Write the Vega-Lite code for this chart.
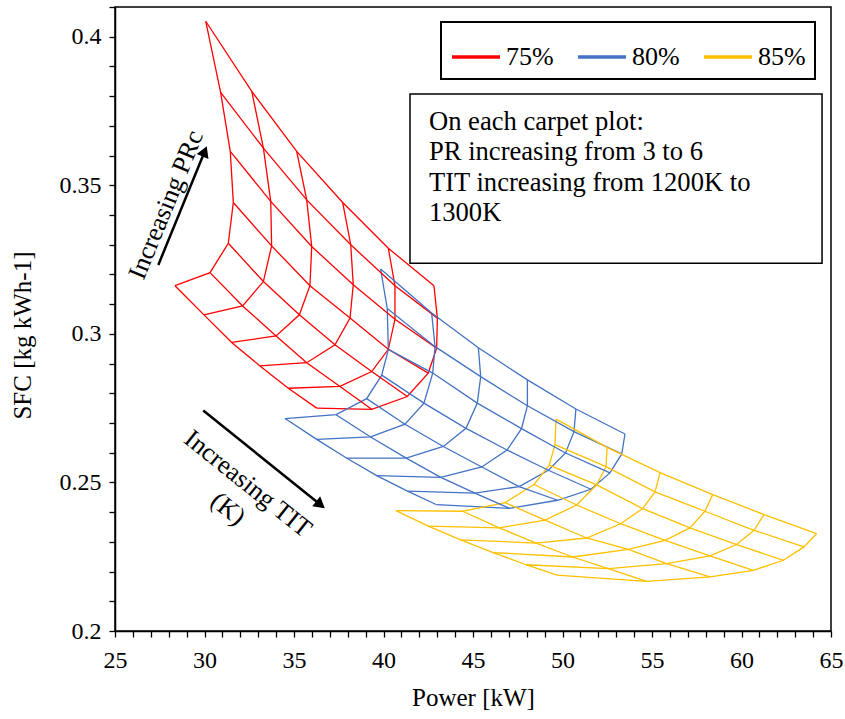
{
  "$schema": "https://vega.github.io/schema/vega-lite/v6.json",
  "width": 716,
  "height": 624,
  "autosize": {"type": "none"},
  "padding": {"left": 115, "top": 7, "right": 14, "bottom": 88},
  "background": "white",
  "config": {
    "view": {"stroke": "black", "strokeWidth": 1.5},
    "font": "Liberation Serif",
    "axis": {"labelFont": "Liberation Serif", "titleFont": "Liberation Serif"},
    "legend": {"labelFont": "Liberation Serif"},
    "text": {"font": "Liberation Serif"}
  },
  "datasets": {
    "carpet": [
      {"eff":"75%","tit":1200,"pr":6,"power":30.07,"sfc":0.4052},
      {"eff":"75%","tit":1200,"pr":5.5,"power":30.90,"sfc":0.3813},
      {"eff":"75%","tit":1200,"pr":5,"power":31.44,"sfc":0.3614},
      {"eff":"75%","tit":1200,"pr":4.5,"power":31.61,"sfc":0.3442},
      {"eff":"75%","tit":1200,"pr":4,"power":31.33,"sfc":0.3305},
      {"eff":"75%","tit":1200,"pr":3.5,"power":30.31,"sfc":0.3206},
      {"eff":"75%","tit":1200,"pr":3,"power":28.35,"sfc":0.3162},
      {"eff":"75%","tit":1220,"pr":6,"power":32.64,"sfc":0.3816},
      {"eff":"75%","tit":1220,"pr":5.5,"power":33.29,"sfc":0.3625},
      {"eff":"75%","tit":1220,"pr":5,"power":33.70,"sfc":0.3446},
      {"eff":"75%","tit":1220,"pr":4.5,"power":33.75,"sfc":0.3296},
      {"eff":"75%","tit":1220,"pr":4,"power":33.29,"sfc":0.3176},
      {"eff":"75%","tit":1220,"pr":3.5,"power":32.13,"sfc":0.3094},
      {"eff":"75%","tit":1220,"pr":3,"power":29.97,"sfc":0.3064},
      {"eff":"75%","tit":1240,"pr":6,"power":35.15,"sfc":0.3614},
      {"eff":"75%","tit":1240,"pr":5.5,"power":35.71,"sfc":0.3451},
      {"eff":"75%","tit":1240,"pr":5,"power":35.99,"sfc":0.3294},
      {"eff":"75%","tit":1240,"pr":4.5,"power":35.89,"sfc":0.3162},
      {"eff":"75%","tit":1240,"pr":4,"power":35.30,"sfc":0.3064},
      {"eff":"75%","tit":1240,"pr":3.5,"power":34.00,"sfc":0.2993},
      {"eff":"75%","tit":1240,"pr":3,"power":31.52,"sfc":0.2971},
      {"eff":"75%","tit":1260,"pr":6,"power":37.72,"sfc":0.3442},
      {"eff":"75%","tit":1260,"pr":5.5,"power":38.17,"sfc":0.3300},
      {"eff":"75%","tit":1260,"pr":5,"power":38.31,"sfc":0.3165},
      {"eff":"75%","tit":1260,"pr":4.5,"power":38.13,"sfc":0.3053},
      {"eff":"75%","tit":1260,"pr":4,"power":37.29,"sfc":0.2963},
      {"eff":"75%","tit":1260,"pr":3.5,"power":35.71,"sfc":0.2903},
      {"eff":"75%","tit":1260,"pr":3,"power":33.10,"sfc":0.2892},
      {"eff":"75%","tit":1280,"pr":6,"power":40.27,"sfc":0.3288},
      {"eff":"75%","tit":1280,"pr":5.5,"power":40.64,"sfc":0.3162},
      {"eff":"75%","tit":1280,"pr":5,"power":40.64,"sfc":0.3049},
      {"eff":"75%","tit":1280,"pr":4.5,"power":40.27,"sfc":0.2948},
      {"eff":"75%","tit":1280,"pr":4,"power":39.34,"sfc":0.2873},
      {"eff":"75%","tit":1280,"pr":3.5,"power":37.57,"sfc":0.2823},
      {"eff":"75%","tit":1280,"pr":3,"power":34.68,"sfc":0.2817},
      {"eff":"75%","tit":1300,"pr":6,"power":42.82,"sfc":0.3162},
      {"eff":"75%","tit":1300,"pr":5.5,"power":43.01,"sfc":0.3053},
      {"eff":"75%","tit":1300,"pr":5,"power":42.97,"sfc":0.2952},
      {"eff":"75%","tit":1300,"pr":4.5,"power":42.50,"sfc":0.2868},
      {"eff":"75%","tit":1300,"pr":4,"power":41.33,"sfc":0.2789},
      {"eff":"75%","tit":1300,"pr":3.5,"power":39.34,"sfc":0.2746},
      {"eff":"75%","tit":1300,"pr":3,"power":36.27,"sfc":0.2750},

      {"eff":"80%","tit":1200,"pr":6,"power":39.84,"sfc":0.3218},
      {"eff":"80%","tit":1200,"pr":5.5,"power":40.21,"sfc":0.3085},
      {"eff":"80%","tit":1200,"pr":5,"power":40.27,"sfc":0.2948},
      {"eff":"80%","tit":1200,"pr":4.5,"power":39.90,"sfc":0.2861},
      {"eff":"80%","tit":1200,"pr":4,"power":39.06,"sfc":0.2782},
      {"eff":"80%","tit":1200,"pr":3.5,"power":37.35,"sfc":0.2728},
      {"eff":"80%","tit":1200,"pr":3,"power":34.50,"sfc":0.2715},
      {"eff":"80%","tit":1220,"pr":6,"power":42.69,"sfc":0.3070},
      {"eff":"80%","tit":1220,"pr":5.5,"power":42.88,"sfc":0.2957},
      {"eff":"80%","tit":1220,"pr":5,"power":42.75,"sfc":0.2868},
      {"eff":"80%","tit":1220,"pr":4.5,"power":42.26,"sfc":0.2767},
      {"eff":"80%","tit":1220,"pr":4,"power":41.20,"sfc":0.2696},
      {"eff":"80%","tit":1220,"pr":3.5,"power":39.28,"sfc":0.2653},
      {"eff":"80%","tit":1220,"pr":3,"power":36.27,"sfc":0.2645},
      {"eff":"80%","tit":1240,"pr":6,"power":45.30,"sfc":0.2953},
      {"eff":"80%","tit":1240,"pr":5.5,"power":45.43,"sfc":0.2856},
      {"eff":"80%","tit":1240,"pr":5,"power":45.24,"sfc":0.2767},
      {"eff":"80%","tit":1240,"pr":4.5,"power":44.61,"sfc":0.2682},
      {"eff":"80%","tit":1240,"pr":4,"power":43.34,"sfc":0.2621},
      {"eff":"80%","tit":1240,"pr":3.5,"power":41.27,"sfc":0.2582},
      {"eff":"80%","tit":1240,"pr":3,"power":37.93,"sfc":0.2582},
      {"eff":"80%","tit":1260,"pr":6,"power":48.04,"sfc":0.2845},
      {"eff":"80%","tit":1260,"pr":5.5,"power":48.04,"sfc":0.2758},
      {"eff":"80%","tit":1260,"pr":5,"power":47.71,"sfc":0.2681},
      {"eff":"80%","tit":1260,"pr":4.5,"power":46.90,"sfc":0.2609},
      {"eff":"80%","tit":1260,"pr":4,"power":45.49,"sfc":0.2552},
      {"eff":"80%","tit":1260,"pr":3.5,"power":43.20,"sfc":0.2517},
      {"eff":"80%","tit":1260,"pr":3,"power":39.62,"sfc":0.2523},
      {"eff":"80%","tit":1280,"pr":6,"power":50.75,"sfc":0.2747},
      {"eff":"80%","tit":1280,"pr":5.5,"power":50.64,"sfc":0.2671},
      {"eff":"80%","tit":1280,"pr":5,"power":50.17,"sfc":0.2599},
      {"eff":"80%","tit":1280,"pr":4.5,"power":49.21,"sfc":0.2541},
      {"eff":"80%","tit":1280,"pr":4,"power":47.58,"sfc":0.2486},
      {"eff":"80%","tit":1280,"pr":3.5,"power":45.11,"sfc":0.2464},
      {"eff":"80%","tit":1280,"pr":3,"power":41.34,"sfc":0.2471},
      {"eff":"80%","tit":1300,"pr":6,"power":53.49,"sfc":0.2663},
      {"eff":"80%","tit":1300,"pr":5.5,"power":53.31,"sfc":0.2596},
      {"eff":"80%","tit":1300,"pr":5,"power":52.65,"sfc":0.2532},
      {"eff":"80%","tit":1300,"pr":4.5,"power":51.59,"sfc":0.2477},
      {"eff":"80%","tit":1300,"pr":4,"power":49.73,"sfc":0.2440},
      {"eff":"80%","tit":1300,"pr":3.5,"power":47.04,"sfc":0.2413},
      {"eff":"80%","tit":1300,"pr":3,"power":42.97,"sfc":0.2425},

      {"eff":"85%","tit":1200,"pr":6,"power":49.64,"sfc":0.2713},
      {"eff":"85%","tit":1200,"pr":5.5,"power":49.58,"sfc":0.2627},
      {"eff":"85%","tit":1200,"pr":5,"power":49.26,"sfc":0.2558},
      {"eff":"85%","tit":1200,"pr":4.5,"power":48.41,"sfc":0.2493},
      {"eff":"85%","tit":1200,"pr":4,"power":46.79,"sfc":0.2432},
      {"eff":"85%","tit":1200,"pr":3.5,"power":44.42,"sfc":0.2403},
      {"eff":"85%","tit":1200,"pr":3,"power":40.70,"sfc":0.2405},
      {"eff":"85%","tit":1220,"pr":6,"power":52.49,"sfc":0.2618},
      {"eff":"85%","tit":1220,"pr":5.5,"power":52.43,"sfc":0.2553},
      {"eff":"85%","tit":1220,"pr":5,"power":51.91,"sfc":0.2492},
      {"eff":"85%","tit":1220,"pr":4.5,"power":50.79,"sfc":0.2424},
      {"eff":"85%","tit":1220,"pr":4,"power":49.02,"sfc":0.2373},
      {"eff":"85%","tit":1220,"pr":3.5,"power":46.47,"sfc":0.2347},
      {"eff":"85%","tit":1220,"pr":3,"power":42.50,"sfc":0.2353},
      {"eff":"85%","tit":1240,"pr":6,"power":55.45,"sfc":0.2533},
      {"eff":"85%","tit":1240,"pr":5.5,"power":55.17,"sfc":0.2468},
      {"eff":"85%","tit":1240,"pr":5,"power":54.48,"sfc":0.2412},
      {"eff":"85%","tit":1240,"pr":4.5,"power":53.25,"sfc":0.2361},
      {"eff":"85%","tit":1240,"pr":4,"power":51.35,"sfc":0.2313},
      {"eff":"85%","tit":1240,"pr":3.5,"power":48.52,"sfc":0.2296},
      {"eff":"85%","tit":1240,"pr":3,"power":44.31,"sfc":0.2307},
      {"eff":"85%","tit":1260,"pr":6,"power":58.39,"sfc":0.2459},
      {"eff":"85%","tit":1260,"pr":5.5,"power":57.96,"sfc":0.2403},
      {"eff":"85%","tit":1260,"pr":5,"power":57.12,"sfc":0.2347},
      {"eff":"85%","tit":1260,"pr":4.5,"power":55.73,"sfc":0.2305},
      {"eff":"85%","tit":1260,"pr":4,"power":53.68,"sfc":0.2275},
      {"eff":"85%","tit":1260,"pr":3.5,"power":50.57,"sfc":0.2249},
      {"eff":"85%","tit":1260,"pr":3,"power":46.13,"sfc":0.2264},
      {"eff":"85%","tit":1280,"pr":6,"power":61.26,"sfc":0.2392},
      {"eff":"85%","tit":1280,"pr":5.5,"power":60.70,"sfc":0.2339},
      {"eff":"85%","tit":1280,"pr":5,"power":59.73,"sfc":0.2291},
      {"eff":"85%","tit":1280,"pr":4.5,"power":58.24,"sfc":0.2253},
      {"eff":"85%","tit":1280,"pr":4,"power":55.82,"sfc":0.2227},
      {"eff":"85%","tit":1280,"pr":3.5,"power":52.56,"sfc":0.2210},
      {"eff":"85%","tit":1280,"pr":3,"power":47.96,"sfc":0.2223},
      {"eff":"85%","tit":1300,"pr":6,"power":64.20,"sfc":0.2328},
      {"eff":"85%","tit":1300,"pr":5.5,"power":63.49,"sfc":0.2283},
      {"eff":"85%","tit":1300,"pr":5,"power":62.34,"sfc":0.2238},
      {"eff":"85%","tit":1300,"pr":4.5,"power":60.66,"sfc":0.2204},
      {"eff":"85%","tit":1300,"pr":4,"power":58.24,"sfc":0.2182},
      {"eff":"85%","tit":1300,"pr":3.5,"power":54.70,"sfc":0.2167},
      {"eff":"85%","tit":1300,"pr":3,"power":49.68,"sfc":0.2188}
    ]
  },
  "encoding": {
    "x": {
      "field": "power", "type": "quantitative",
      "scale": {"domain": [25, 65], "nice": false, "zero": false},
      "axis": {
        "title": "Power [kW]",
        "values": [25,26,27,28,29,30,31,32,33,34,35,36,37,38,39,40,41,42,43,44,45,46,47,48,49,50,51,52,53,54,55,56,57,58,59,60,61,62,63,64,65],
        "labelExpr": "datum.value % 5 === 0 ? datum.label : ''",
        "labelOverlap": false, "labelFlush": false, "grid": false,
        "domainColor": "black", "domainWidth": 1.5,
        "tickColor": "black", "tickWidth": 1.3, "tickSize": 6,
        "labelFont": "Liberation Serif", "labelFontSize": 24, "labelColor": "black", "labelPadding": 11,
        "titleFont": "Liberation Serif", "titleFontSize": 25, "titleFontWeight": "normal", "titleColor": "black", "titlePadding": 13,
        "encode": {"ticks": {"update": {
          "y": [{"test": "datum.value % 5 === 0", "value": -6}, {"value": -5}],
          "y2": [{"test": "datum.value % 5 === 0", "value": 6}, {"value": 0}]
        }}}
      }
    },
    "y": {
      "field": "sfc", "type": "quantitative",
      "scale": {"domain": [0.2, 0.41], "nice": false, "zero": false},
      "axis": {
        "title": "SFC [kg kWh-1]",
        "values": [0.2,0.21,0.22,0.23,0.24,0.25,0.26,0.27,0.28,0.29,0.3,0.31,0.32,0.33,0.34,0.35,0.36,0.37,0.38,0.39,0.4,0.41],
        "labelExpr": "abs(round(datum.value*100) % 5) == 0 ? toString(round(datum.value*100)/100) : ''",
        "labelOverlap": false, "labelFlush": false, "grid": false,
        "domainColor": "black", "domainWidth": 1.5,
        "tickColor": "black", "tickWidth": 1.3, "tickSize": 6,
        "labelFont": "Liberation Serif", "labelFontSize": 24, "labelColor": "black", "labelPadding": 8,
        "titleFont": "Liberation Serif", "titleFontSize": 25, "titleFontWeight": "normal", "titleColor": "black", "titlePadding": 24,
        "titleY": 328,
        "encode": {"ticks": {"update": {
          "x": [{"test": "abs(round(datum.value*100) % 5) == 0", "value": 6}, {"value": 5}],
          "x2": [{"test": "abs(round(datum.value*100) % 5) == 0", "value": -6}, {"value": 0}]
        }}}
      }
    }
  },
  "layer": [
    {
      "data": {"name": "carpet"},
      "mark": {"type": "line", "strokeWidth": 1.3},
      "encoding": {
        "color": {
          "field": "eff", "type": "nominal",
          "scale": {"domain": ["75%", "80%", "85%"], "range": ["#FF0000", "#4472C4", "#FFC000"]},
          "legend": {
            "orient": "none", "legendX": 326, "legendY": 15, "direction": "horizontal", "title": null,
            "symbolType": "stroke", "symbolSize": 2304, "symbolStrokeWidth": 3.5,
            "labelFont": "Liberation Serif", "labelFontSize": 26, "labelColor": "black", "labelOffset": 4, "labelLimit": 0,
            "padding": 9, "columnPadding": 17, "strokeColor": "black",
            "encode": {"legend": {"update": {"stroke": {"value": "black"}, "strokeWidth": {"value": 2}}}}
          }
        },
        "detail": {"field": "tit"},
        "order": {"field": "pr", "type": "quantitative"}
      }
    },
    {
      "data": {"name": "carpet"},
      "mark": {"type": "line", "strokeWidth": 1.3},
      "encoding": {
        "color": {"field": "eff", "type": "nominal", "legend": null},
        "detail": {"field": "pr"},
        "order": {"field": "tit", "type": "quantitative"}
      }
    },
    {
      "data": {"values": [{"power": 41.48, "sfc": 0.3807, "power2": 64.5, "sfc2": 0.3238}]},
      "mark": {"type": "rect", "fill": "white", "stroke": "black", "strokeWidth": 1.5},
      "encoding": {
        "x2": {"field": "power2"},
        "y2": {"field": "sfc2"}
      }
    },
    {
      "data": {"values": [{"power": 42.54, "sfc": 0.3714}]},
      "mark": {"type": "text", "align": "left", "baseline": "middle", "font": "Liberation Serif", "fontSize": 26.6, "lineHeight": 30.5, "color": "black",
        "text": ["On each carpet plot:", "PR increasing from 3 to 6", "TIT increasing from 1200K to", "1300K"]}
    },
    {
      "data": {"values": [{"power": 27.42, "sfc": 0.3232, "power2": 30.01, "sfc2": 0.3614}, {"power": 29.93, "sfc": 0.2742, "power2": 36.48, "sfc2": 0.2425}]},
      "mark": {"type": "rule", "color": "black", "strokeWidth": 2.5},
      "encoding": {
        "x2": {"field": "power2"},
        "y2": {"field": "sfc2"}
      }
    },
    {
      "data": {"values": [{"power": 30.01, "sfc": 0.3614}]},
      "mark": {"type": "point", "shape": "triangle-up", "filled": true, "color": "black", "opacity": 1, "size": 160, "angle": 22.3}
    },
    {
      "data": {"values": [{"power": 36.48, "sfc": 0.2425}]},
      "mark": {"type": "point", "shape": "triangle-up", "filled": true, "color": "black", "opacity": 1, "size": 160, "angle": 128.7}
    },
    {
      "data": {"values": [{"power": 27.85, "sfc": 0.3434}]},
      "mark": {"type": "text", "align": "center", "baseline": "middle", "font": "Liberation Serif", "fontSize": 26, "color": "black", "angle": 292.3,
        "text": "Increasing PRc"}
    },
    {
      "data": {"values": [{"power": 32.43, "sfc": 0.2495}]},
      "mark": {"type": "text", "align": "center", "baseline": "middle", "font": "Liberation Serif", "fontSize": 26, "lineHeight": 32, "color": "black", "angle": 38.7,
        "text": ["Increasing TIT", "(K)"]}
    }
  ]
}
